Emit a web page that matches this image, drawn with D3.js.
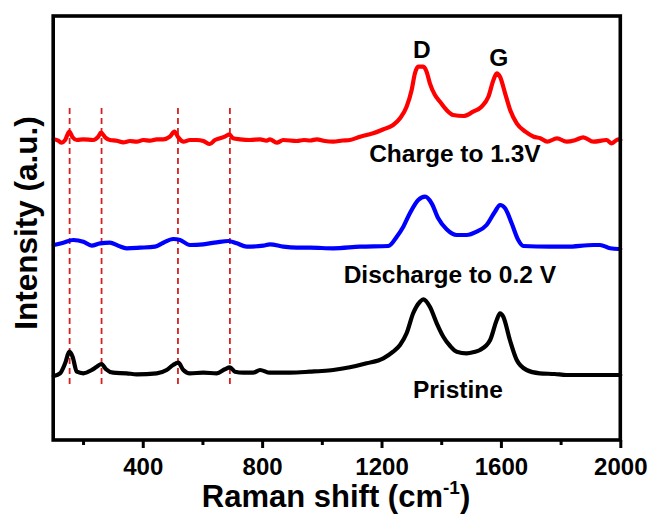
<!DOCTYPE html>
<html>
<head>
<meta charset="utf-8">
<script src="https://cdn.jsdelivr.net/npm/d3@7"></script>
<style>
  html, body { margin: 0; padding: 0; background: #fff; }
  svg { display: block; }
  text { font-family: "Liberation Sans", Arial, sans-serif; font-weight: bold; fill: #000; }
</style>
</head>
<body>
<svg id="chart" width="651" height="516"></svg>
<script>
// Raman spectra: [Raman shift (cm-1), intensity above the curve's own baseline (a.u.)]
const pristine = [
  [102,-2],[123,0.7],[140,10.7],[154,22.3],[165,17.3],[179,2.3],[201,0.7],[229,4],[246,7.3],[262,10],
  [277,4.7],[301,1.3],[346,0.7],[380,-0.3],[447,0.7],[480,4],[502,9],[519,11.3],[536,4],[558,0.7],
  [603,1.3],[648,0.7],[675,4.7],[692,6.7],[709,2.3],[737,1.3],[770,1.3],[793,4],[826,1.3],[871,1.3],
  [916,1.5],[960,2.3],[1000,3],[1038,4],[1094,6.7],[1150,10.7],[1206,15.7],[1239,22.3],[1262,29],[1284,40.7],
  [1306,60.7],[1329,72.3],[1340,74.7],[1362,67.3],[1385,50.7],[1407,37.3],[1430,28],[1452,22.3],[1485,20.7],[1510,22],
  [1530,24],[1564,34],[1586,54],[1597,60.7],[1608,57.3],[1630,34],[1653,14],[1686,4],[1730,0.7],[1780,0],
  [1820,-1],[1900,-1],[2000,-1]
];
const discharge = [
  [102,3],[134,5.3],[167,8],[201,6.3],[229,2.3],[257,4.7],[290,5.3],[318,2.3],[346,-0.3],[391,0.3],
  [441,1.3],[469,5.3],[502,9],[525,8],[558,3],[603,3.7],[648,5.7],[687,7],[715,4.7],[748,1.3],
  [804,2.3],[826,3.7],[871,1.3],[916,0.3],[961,0.3],[1038,-0.3],[1128,1.3],[1223,2],[1251,11.3],[1273,21.3],
  [1295,34.7],[1323,48],[1346,51.3],[1368,44.7],[1390,29.7],[1418,18.7],[1452,13],[1485,13],[1519,16.3],[1552,23],
  [1580,36.3],[1597,43],[1614,39.7],[1636,24.7],[1658,8],[1675,2],[1764,1.3],[1820,1.3],[1910,3],[1932,3],
  [1966,-0.3],[1993,-1],[2000,-1]
];
const charge = [
  [102,0.7],[117,-0.7],[128,-2.7],[140,0],[154,8.3],[165,2.7],[179,0],[201,0.7],[234,0],[251,3.3],
  [260,7.3],[274,2.7],[290,0],[313,-0.7],[335,-2.3],[357,-1],[380,-1.7],[402,0],[425,-0.7],[447,0.7],
  [469,0.7],[491,3.3],[506,8.3],[519,2.7],[536,-1.7],[558,0],[581,0],[603,-1],[625,-4],[642,0],
  [659,1.7],[675,3.3],[690,5.7],[703,1.7],[726,0.7],[759,0],[793,0.7],[815,-0.7],[826,0.7],[849,-2.7],
  [871,0],[916,-1],[940,0],[961,-0.5],[983,0.7],[1010,-1],[1038,-1.7],[1070,-0.5],[1094,0],[1128,3.3],
  [1150,5],[1172,6.7],[1206,10.7],[1239,15],[1262,21.7],[1284,33.3],[1301,50],[1312,66.7],[1323,73.3],[1340,73.3],
  [1351,68.3],[1362,56.7],[1379,45],[1396,38.3],[1418,30],[1440,25],[1474,24],[1507,28.3],[1535,33.3],[1558,43.3],
  [1575,60],[1586,66.7],[1597,63.3],[1614,46.7],[1631,30],[1653,16.7],[1682,8.3],[1710,3.3],[1732,1.7],[1755,-1.7],
  [1788,1.7],[1820,-1.7],[1850,0],[1876,2.7],[1910,-1.7],[1954,0],[1971,-3.3],[1993,0.7],[2000,0]
];

// Vertical stacking offsets of the three spectra (a.u.)
const seriesNames = ["Pristine", "Discharge to 0.2 V", "Charge to 1.3V"];
const seriesData = [pristine, discharge, charge];
const seriesOffset = [66, 192, 300];
const seriesColor = ["#000000", "#0000ff", "#ff0000"];

// Peak positions marked by dashed guide lines (cm-1) and their extent (a.u.)
const guideShifts = [155, 262, 518, 692];
const guideRange = [56, 332];

// Axis ticks
const xMajorTicks = [400, 800, 1200, 1600, 2000];
const xMinorTicks = [200, 600, 1000, 1400, 1800];

// Text annotations placed in data coordinates
const annotations = [
  { text: "D", x: 1335, y: 382 },
  { text: "G", x: 1593, y: 374 },
  { text: "Charge to 1.3V", x: 1446, y: 278 },
  { text: "Discharge to 0.2 V", x: 1429, y: 157 },
  { text: "Pristine", x: 1456, y: 42 }
];

const svg = d3.select("#chart");
const margin = { left: 54, right: 31, top: 16, bottom: 76 };
const W = 651, H = 516;

const x = d3.scaleLinear().domain([100, 2000]).range([margin.left - 0.8, W - margin.right + 0.3]);
const y = d3.scaleLinear().domain([0, 424]).range([H - margin.bottom, margin.top]);

// Dashed guide lines
svg.append("g")
  .selectAll("line")
  .data(guideShifts)
  .join("line")
  .attr("x1", d => x(d)).attr("x2", d => x(d))
  .attr("y1", y(guideRange[0])).attr("y2", y(guideRange[1]))
  .attr("stroke", "#d42020")
  .attr("stroke-width", 1.8)
  .attr("stroke-dasharray", "6,4");

// Spectra
const line = d3.line()
  .x(d => x(d[0]))
  .curve(d3.curveMonotoneX);

svg.append("g")
  .selectAll("path")
  .data(seriesData)
  .join("path")
  .attr("d", (d, i) => line.y(p => y(p[1] + seriesOffset[i]))(d))
  .attr("fill", "none")
  .attr("stroke", (d, i) => seriesColor[i])
  .attr("stroke-width", 4.2)
  .attr("stroke-linejoin", "round")
  .attr("stroke-linecap", "round");

// Frame
svg.append("rect")
  .attr("x", x(100)).attr("y", y(424))
  .attr("width", x(2000) - x(100))
  .attr("height", y(0) - y(424))
  .attr("fill", "none")
  .attr("stroke", "#000")
  .attr("stroke-width", 3.6);

// Bottom axis: labelled major ticks and short minor ticks
const axisG = svg.append("g").attr("transform", `translate(0,${y(0)})`);
axisG.call(d3.axisBottom(x).tickValues(xMajorTicks).tickSize(8).tickPadding(10).tickFormat(d3.format("d")));
axisG.select(".domain").remove();
axisG.selectAll(".tick line").attr("stroke", "#000").attr("stroke-width", 3);
axisG.selectAll(".tick text")
  .attr("font-size", 24)
  .attr("font-family", "Liberation Sans, Arial, sans-serif")
  .attr("font-weight", "bold")
  .attr("fill", "#000");

const minorG = svg.append("g").attr("transform", `translate(0,${y(0)})`);
minorG.call(d3.axisBottom(x).tickValues(xMinorTicks).tickSize(5).tickFormat(""));
minorG.select(".domain").remove();
minorG.selectAll(".tick line").attr("stroke", "#000").attr("stroke-width", 3);

// Axis titles
const xTitle = svg.append("text")
  .attr("x", 336).attr("y", 507)
  .attr("text-anchor", "middle")
  .attr("font-size", 31);
xTitle.append("tspan").text("Raman shift (cm");
xTitle.append("tspan").attr("font-size", 19).attr("dy", -13).text("-1");
xTitle.append("tspan").attr("dy", 13).text(")");

svg.append("text")
  .attr("transform", "translate(37,223) rotate(-90)")
  .attr("text-anchor", "middle")
  .attr("font-size", 31.5)
  .text("Intensity (a.u.)");

// Annotations
svg.append("g")
  .selectAll("text")
  .data(annotations)
  .join("text")
  .attr("x", d => x(d.x))
  .attr("y", d => y(d.y))
  .attr("text-anchor", "middle")
  .attr("font-size", 24.5)
  .text(d => d.text);
</script>
</body>
</html>
